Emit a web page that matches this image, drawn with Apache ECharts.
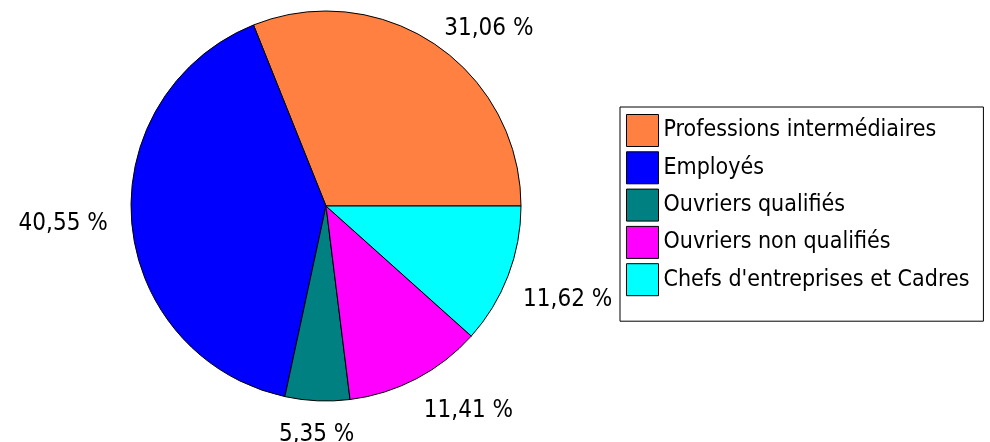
<!DOCTYPE html>
<html>
<head>
<meta charset="utf-8">
<script src="https://cdn.jsdelivr.net/npm/echarts@6/dist/echarts.min.js"></script>
<style>
  html, body { margin: 0; padding: 0; background: #fff; }
  #chart { width: 990px; height: 442px; }
</style>
</head>
<body>
<div id="chart"></div>
<script>
// categories and shares (%)
var categories = ['Professions intermédiaires', 'Employés', 'Ouvriers qualifiés', 'Ouvriers non qualifiés', "Chefs d'entreprises et Cadres"];
var values = [31.06, 40.55, 5.35, 11.41, 11.62];
var colors = ['#FF8040', '#0000FF', '#008080', '#FF00FF', '#00FFFF'];

var fontName = "'DejaVu Sans Condensed', 'DejaVu Sans', sans-serif";

var total = 0;
for (var i = 0; i < values.length; i++) total += values[i];

// angle du milieu de chaque part (sens anti-horaire depuis 3h)
function midAngle(idx) {
    var cum = 0;
    for (var i = 0; i < idx; i++) cum += values[i];
    return (cum + values[idx] / 2) / total * 360;
}

var pieData = [];
for (var i = 0; i < categories.length; i++) {
    pieData.push({ name: categories[i], value: values[i], itemStyle: { color: colors[i] } });
}

var myChart = echarts.init(document.getElementById('chart'));
var option = {
    animation: false,
    legend: {
        orient: 'vertical',
        left: 620,
        top: 107,
        padding: [7, 14, 25, 6],
        itemWidth: 32,
        itemHeight: 32,
        itemGap: 4.3,
        icon: 'rect',
        borderColor: '#000',
        borderWidth: 1,
        borderRadius: 0,
        selectedMode: false,
        itemStyle: { borderColor: '#000', borderWidth: 1 },
        textStyle: { fontFamily: fontName, fontSize: 23, color: '#000' },
        data: categories
    },
    series: [
        {
            type: 'pie',
            center: [326, 206],
            radius: 195,
            startAngle: 0,
            clockwise: false,
            avoidLabelOverlap: false,
            silent: true,
            data: pieData,
            itemStyle: { borderColor: '#000', borderWidth: 1 },
            label: {
                show: true,
                position: 'outside',
                distanceToLabelLine: 0,
                fontFamily: fontName,
                fontSize: 24,
                color: '#000',
                formatter: function (p) {
                    return p.value.toFixed(2).replace('.', ',') + ' %';
                }
            },
            labelLine: { show: false, length: 16, length2: 0 },
            labelLayout: function (p) {
                var a = midAngle(p.dataIndex) * Math.PI / 180;
                var c = Math.cos(a), s = Math.sin(a);
                var va = s > 0.3 ? 'bottom' : (s < -0.3 ? 'top' : 'middle');
                return {
                    align: c > 0.3 ? 'left' : (c < -0.3 ? 'right' : 'center'),
                    verticalAlign: va,
                    dx: va === 'middle' ? (c < 0 ? -8 : 8) : 0,
                    dy: va === 'middle' ? 0 : (va === 'bottom' ? 10 : 6)
                };
            }
        }
    ]
};
myChart.setOption(option);
</script>
</body>
</html>
